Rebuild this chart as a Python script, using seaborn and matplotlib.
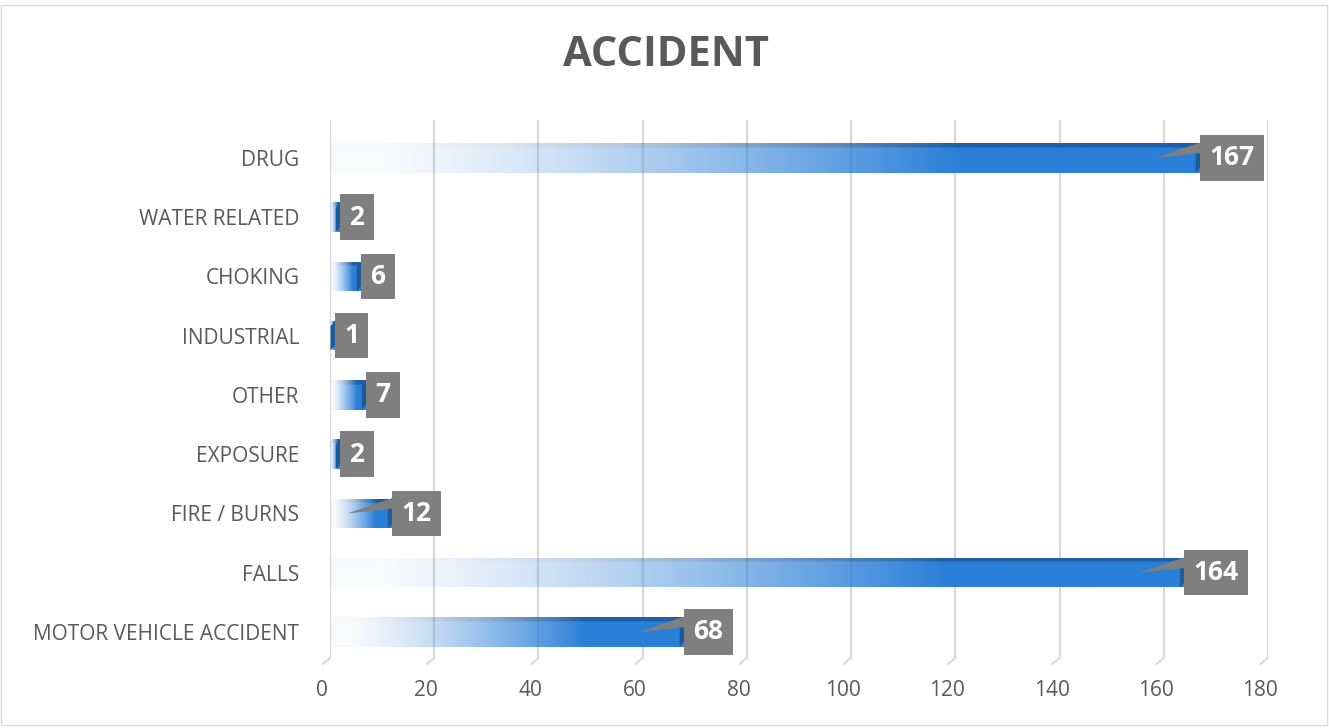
import numpy as np
import pandas as pd
import matplotlib
matplotlib.use('Agg')
import matplotlib.pyplot as plt
import seaborn as sns
from matplotlib.colors import to_rgb
from matplotlib.patches import Polygon, Rectangle
from matplotlib.transforms import ScaledTranslation

# data, top to bottom as in the chart
categories = ['DRUG', 'WATER RELATED', 'CHOKING', 'INDUSTRIAL', 'OTHER',
              'EXPOSURE', 'FIRE / BURNS', 'FALLS', 'MOTOR VEHICLE ACCIDENT']
values = [167, 2, 6, 1, 7, 2, 12, 164, 68]
x_ticks = [0, 20, 40, 60, 80, 100, 120, 140, 160, 180]

sns.set_style('white')
plt.rcParams['font.family'] = ['Open Sans', 'DejaVu Sans']

W, H = 1329, 728
fig = plt.figure(figsize=(W / 100, H / 100), dpi=100)
ax = fig.add_axes([330 / W, 1 - 658 / H, (1268 - 330) / W, (658 - 120) / H])

df = pd.DataFrame({'cause': categories, 'count': values})
sns.barplot(data=df, x='count', y='cause', orient='h', width=0.5,
            color='#2A7FD8', ax=ax)

### gradient fill for the bars (white -> blue, darker top strip)
blue = np.array(to_rgb('#2A7FD8'))
top = np.array(to_rgb('#1F5FA6'))
ncol, nrow = 400, 40
t = np.linspace(0, 1, ncol)
alpha = np.clip(t / 0.72, 0, 1) ** 1.4
alpha = np.clip(alpha, 0.03, 1)
img = np.zeros((nrow, ncol, 4))
img[:, :, :3] = blue
img[:6, :, :3] = top
img[:, :, 3] = alpha[None, :]

for patch in list(ax.patches):
    x0, y0 = patch.get_x(), patch.get_y()
    w, h = patch.get_width(), patch.get_height()
    patch.set_facecolor('none')
    patch.set_edgecolor('none')
    im = ax.imshow(img, extent=[x0, x0 + w, y0 + h, y0], aspect='auto',
                   interpolation='bilinear', zorder=2)
    im.set_clip_path(patch)

for i, v in enumerate(values):
    # dark end face
    ax.add_patch(Polygon([(v - 0.9, i + 0.25), (v - 0.9, i - 0.16),
                          (v, i - 0.25), (v, i + 0.16)],
                         closed=True, fc='#1C5A9E', ec='none', zorder=3))
    # callout pointer
    if v >= 10:
        ax.add_patch(Polygon([(v - 8.6, i), (v, i - 0.26), (v, i - 0.08)],
                             closed=True, fc='#7F7F7F', ec='none', zorder=4))
    ax.annotate(str(v), xy=(v, i), xytext=(6.5, 0), textcoords='offset points',
                ha='left', va='center', fontsize=19, fontweight='bold',
                color='white', zorder=5,
                bbox=dict(boxstyle='square,pad=0.35', fc='#7F7F7F', ec='none'))

ax.set_xlim(0, 180)
ax.set_ylim(8.44, -0.64)
ax.set_xticks(x_ticks)
ax.grid(axis='x', color='#D9D9D9', lw=1.6)
ax.grid(axis='y', visible=False)
ax.set_axisbelow(True)
for s in ax.spines.values():
    s.set_visible(False)
for tk in x_ticks:
    ax.plot([tk, tk - 1.4], [8.44, 8.54], color='#D9D9D9', lw=1.5,
            clip_on=False, zorder=1)

ax.set_xlabel('')
ax.set_ylabel('')
ax.tick_params(axis='both', length=0, labelsize=15, labelcolor='#595959')
ax.tick_params(axis='y', pad=22)
ax.tick_params(axis='x', pad=16)
for lbl in ax.get_xticklabels():
    lbl.set_transform(lbl.get_transform() +
                      ScaledTranslation(-8 / 100, 0, fig.dpi_scale_trans))

fig.text(666 / W, 1 - 55 / H, 'ACCIDENT', ha='center', va='center',
         fontsize=30, fontweight='bold', color='#595959')
fig.patches.append(Rectangle((1.5 / W, 3.5 / H), 1 - 4 / W, 1 - 8 / H,
                             transform=fig.transFigure, fill=False,
                             ec='#D9D9D9', lw=1))

fig.savefig('out.png', dpi=100)
